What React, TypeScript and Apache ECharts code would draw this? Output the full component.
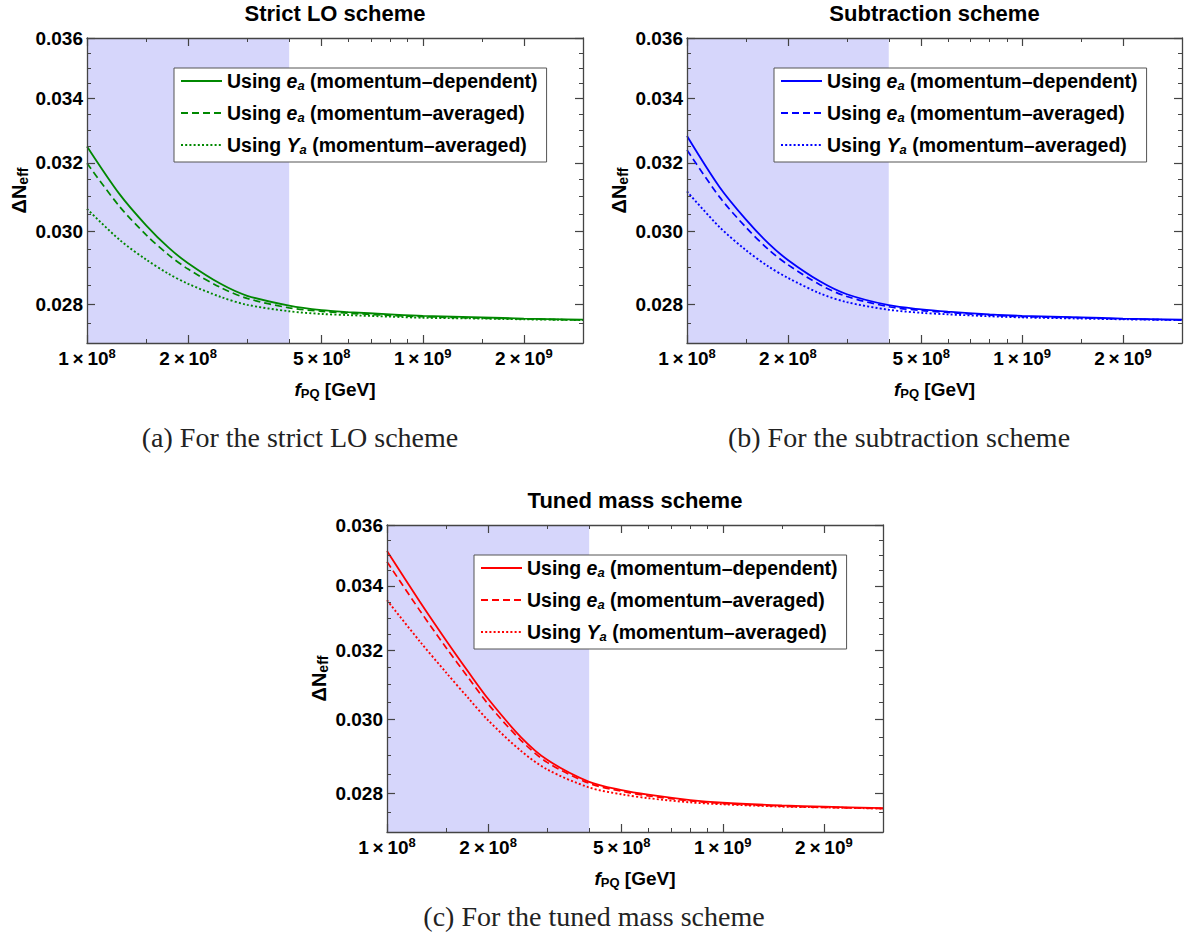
import React, { useEffect, useRef } from "react";
import * as echarts from "echarts";

// ---------------- data ----------------
const fValues = [1e8, 1.25e8, 1.5e8, 1.75e8, 2e8, 2.5e8, 3e8, 4e8, 5e8, 6e8, 8e8, 1e9, 1.5e9, 2e9, 3e9];

const strictDependent = [0.0325, 0.03107, 0.03017, 0.02954, 0.02911, 0.02855, 0.02823, 0.02797, 0.02785, 0.0278, 0.02774, 0.0277, 0.02766, 0.02763, 0.0276];
const strictAveragedE = [0.03199, 0.03071, 0.0299, 0.02934, 0.02895, 0.02845, 0.02816, 0.02791, 0.02782, 0.02777, 0.02771, 0.02768, 0.02764, 0.02762, 0.02759];
const strictAveragedY = [0.03064, 0.02976, 0.02921, 0.02882, 0.02855, 0.0282, 0.02799, 0.02782, 0.02775, 0.02772, 0.02768, 0.02765, 0.02763, 0.02761, 0.02759];

const subDependent = [0.03282, 0.03128, 0.03033, 0.02966, 0.0292, 0.02861, 0.02827, 0.02798, 0.02787, 0.02781, 0.02774, 0.0277, 0.02766, 0.02763, 0.0276];
const subAveragedE = [0.03239, 0.03099, 0.03011, 0.02949, 0.02907, 0.02852, 0.02821, 0.02794, 0.02784, 0.02779, 0.02772, 0.02768, 0.02765, 0.02762, 0.02759];
const subAveragedY = [0.03115, 0.03012, 0.02947, 0.02902, 0.02871, 0.02829, 0.02806, 0.02786, 0.02778, 0.02774, 0.02769, 0.02766, 0.02763, 0.02761, 0.02759];

const tunedDependent = [0.03513, 0.03352, 0.03231, 0.03136, 0.03059, 0.02952, 0.02889, 0.0283, 0.02808, 0.02796, 0.02782, 0.02775, 0.02768, 0.02765, 0.02761];
const tunedAveragedE = [0.03478, 0.03324, 0.03209, 0.03119, 0.03044, 0.02943, 0.02882, 0.02826, 0.02805, 0.02793, 0.0278, 0.02773, 0.02766, 0.02763, 0.0276];
const tunedAveragedY = [0.03355, 0.03229, 0.03135, 0.0306, 0.02998, 0.02914, 0.02863, 0.02815, 0.02797, 0.02787, 0.02776, 0.02771, 0.02765, 0.02763, 0.0276];

const xRange = [1e8, 3e9];
const yRange = [0.027, 0.036];
const shadedRange = [1e8, 4e8];

const xMajorTicks = [1e8, 2e8, 5e8, 1e9, 2e9];
const xTickMantissa = ["1", "2", "5", "1", "2"];
const xTickExponent = ["8", "8", "8", "9", "9"];
const xMinorTicks = [1.5e8, 3e8, 4e8, 6e8, 7e8, 8e8, 9e8, 1.5e9];

const yMajorTicks = [0.028, 0.03, 0.032, 0.034, 0.036];
const yTickLabels = ["0.028", "0.030", "0.032", "0.034", "0.036"];
const yMinorTicks = [0.027, 0.0275, 0.0285, 0.029, 0.0295, 0.0305, 0.031, 0.0315, 0.0325, 0.033, 0.0335, 0.0345, 0.035, 0.0355];

const legendLabels = [
  "Using {i|e}{sub|a} (momentum–dependent)",
  "Using {i|e}{sub|a} (momentum–averaged)",
  "Using {i|Y}{sub|a} (momentum–averaged)",
];

const panelTitles = ["Strict LO scheme", "Subtraction scheme", "Tuned mass scheme"];
const panelCaptions = ["(a) For the strict LO scheme", "(b) For the subtraction scheme", "(c) For the tuned mass scheme"];
const panelColors = ["#008800", "#0000ff", "#ff0000"];
const panelSeries = [
  [strictDependent, strictAveragedE, strictAveragedY],
  [subDependent, subAveragedE, subAveragedY],
  [tunedDependent, tunedAveragedE, tunedAveragedY],
];

// ---------------- layout / style ----------------
const FONT = "'Liberation Sans', Arial, Helvetica, sans-serif";
const SERIF = "'Liberation Serif', 'Times New Roman', serif";
const FRAME = "#444444";
const grids = [
  { left: 87, top: 38, width: 496, height: 305 },
  { left: 687, top: 38, width: 495, height: 305 },
  { left: 387, top: 525, width: 496, height: 307 },
];
const captionPos = [
  { x: 300, y: 437 },
  { x: 899, y: 437 },
  { x: 594, y: 916 },
];
const dashTypes: any[] = ["solid", [7, 4], [2, 2.2]];
const lineWidths = [1.8, 1.7, 1.9];

const L = (v: number) => Math.log10(v);

function buildOption() {
  const xAxis: any[] = [];
  const yAxis: any[] = [];
  const series: any[] = [];
  const legend: any[] = [];
  const graphic: any[] = [];

  const xMin = L(xRange[0]);
  const xMax = L(xRange[1]);
  const yMin = L(yRange[0]);
  const yMax = L(yRange[1]);

  grids.forEach((g, i) => {
    const base = { type: "value", gridIndex: i, min: xMin, max: xMax, z: 10, splitLine: { show: false } };
    const ybase = { type: "value", gridIndex: i, min: yMin, max: yMax, z: 10, splitLine: { show: false } };
    const line = { show: true, onZero: false, lineStyle: { color: FRAME, width: 1.3 } };
    const noLine = { show: false, onZero: false };
    const majTick = (vals: number[]) => ({ show: true, inside: true, length: 8, customValues: vals.map(L), lineStyle: { color: FRAME, width: 1.2 } });
    const minTick = (vals: number[]) => ({ show: true, inside: true, length: 4, customValues: vals.map(L), lineStyle: { color: FRAME, width: 1 } });

    xAxis.push({
      ...base,
      position: "bottom",
      axisLine: line,
      axisTick: majTick(xMajorTicks),
      axisLabel: {
        show: true,
        customValues: xMajorTicks.map(L),
        margin: 4,
        formatter: (v: number) => {
          const idx = xMajorTicks.findIndex((t) => Math.abs(L(t) - v) < 1e-6);
          if (idx < 0) return "";
          return `{b|${xTickMantissa[idx]}\u2009×\u200910}{sup|${xTickExponent[idx]}}`;
        },
        rich: {
          b: { fontFamily: FONT, fontWeight: "bold", fontSize: 19, color: "#000" },
          sup: { fontFamily: FONT, fontWeight: "bold", fontSize: 13, color: "#000", padding: [0, 0, 9, 0] },
        },
      },
      name: "{i|f}{sub|PQ}{b| [GeV]}",
      nameLocation: "middle",
      nameGap: 36,
      nameTextStyle: {
        rich: {
          i: { fontFamily: FONT, fontWeight: "bold", fontStyle: "italic", fontSize: 19, color: "#000" },
          sub: { fontFamily: FONT, fontWeight: "bold", fontSize: 13, color: "#000", padding: [8, 0, 0, 0] },
          b: { fontFamily: FONT, fontWeight: "bold", fontSize: 19, color: "#000" },
        },
      },
    });
    xAxis.push({ ...base, position: "bottom", axisLine: noLine, axisTick: minTick(xMinorTicks), axisLabel: { show: false } });
    xAxis.push({ ...base, position: "top", axisLine: line, axisTick: majTick(xMajorTicks), axisLabel: { show: false } });
    xAxis.push({ ...base, position: "top", axisLine: noLine, axisTick: minTick(xMinorTicks), axisLabel: { show: false } });

    yAxis.push({
      ...ybase,
      position: "left",
      axisLine: line,
      axisTick: majTick(yMajorTicks),
      axisLabel: {
        show: true,
        customValues: yMajorTicks.map(L),
        margin: 4,
        fontFamily: FONT,
        fontWeight: "bold",
        fontSize: 19,
        color: "#000",
        formatter: (v: number) => {
          const idx = yMajorTicks.findIndex((t) => Math.abs(L(t) - v) < 1e-6);
          return idx < 0 ? "" : yTickLabels[idx];
        },
      },
      name: "{b|ΔN}{sub|eff}",
      nameLocation: "middle",
      nameRotate: 90,
      nameGap: 57,
      nameTextStyle: {
        rich: {
          b: { fontFamily: FONT, fontWeight: "bold", fontSize: 20, color: "#000" },
          sub: { fontFamily: FONT, fontWeight: "bold", fontSize: 14, color: "#000", padding: [9, 0, 0, 0] },
        },
      },
    });
    yAxis.push({ ...ybase, position: "left", axisLine: noLine, axisTick: minTick(yMinorTicks), axisLabel: { show: false } });
    yAxis.push({ ...ybase, position: "right", axisLine: line, axisTick: majTick(yMajorTicks), axisLabel: { show: false } });
    yAxis.push({ ...ybase, position: "right", axisLine: noLine, axisTick: minTick(yMinorTicks), axisLabel: { show: false } });

    const xi = i * 4;
    series.push({
      type: "line",
      name: `shade${i}`,
      xAxisIndex: xi,
      yAxisIndex: xi,
      data: [],
      z: 1,
      silent: true,
      markArea: {
        silent: true,
        itemStyle: { color: "#d6d6fb", opacity: 1 },
        data: [[{ xAxis: L(shadedRange[0]) }, { xAxis: L(shadedRange[1]) }]],
      },
    });

    const names: string[] = [];
    panelSeries[i].forEach((vals, k) => {
      const name = `p${i}s${k}`;
      names.push(name);
      series.push({
        type: "line",
        name,
        xAxisIndex: xi,
        yAxisIndex: xi,
        symbol: "none",
        smooth: 0.3,
        z: 3,
        lineStyle: { color: panelColors[i], width: lineWidths[k], type: dashTypes[k], cap: "butt" },
        itemStyle: { color: panelColors[i] },
        data: fValues.map((f, j) => [L(f), L(vals[j])]),
      });
    });

    legend.push({
      data: names,
      orient: "vertical",
      left: g.left + 87,
      top: g.top + 30,
      itemWidth: 41,
      itemHeight: 14,
      itemGap: 10,
      padding: [2, 9, 6, 6],
      borderColor: "#555",
      borderWidth: 1,
      borderRadius: 0,
      backgroundColor: "#fff",
      selectedMode: false,
      itemStyle: { opacity: 0, borderWidth: 0 },
      formatter: (name: string) => legendLabels[names.indexOf(name)],
      textStyle: {
        fontFamily: FONT,
        fontWeight: "bold",
        fontSize: 19.5,
        color: "#000",
        lineHeight: 22,
        rich: {
          i: { fontFamily: FONT, fontWeight: "bold", fontStyle: "italic", fontSize: 19.5, color: "#000" },
          sub: { fontFamily: FONT, fontWeight: "bold", fontStyle: "italic", fontSize: 13, color: "#000", padding: [8, 0, 0, 0] },
        },
      },
    });

    graphic.push({
      type: "text",
      x: g.left + g.width / 2,
      y: g.top - 25,
      style: {
        text: panelTitles[i],
        fontFamily: FONT,
        fontWeight: "bold",
        fontSize: 22,
        fill: "#000",
        align: "center",
        verticalAlign: "middle",
      },
    });
    graphic.push({
      type: "text",
      x: captionPos[i].x,
      y: captionPos[i].y,
      style: {
        text: panelCaptions[i],
        fontFamily: SERIF,
        fontSize: 28,
        fill: "#222",
        align: "center",
        verticalAlign: "middle",
      },
    });
  });

  return {
    animation: false,
    backgroundColor: "#fff",
    grid: grids.map((g) => ({ ...g, containLabel: false, outerBoundsMode: "none" })),
    xAxis,
    yAxis,
    series,
    legend,
    graphic,
  };
}

export default function App() {
  const ref = useRef<HTMLDivElement>(null);
  useEffect(() => {
    if (!ref.current) return;
    const chart = echarts.init(ref.current, undefined, { renderer: "svg" });
    chart.setOption(buildOption() as any);
    return () => chart.dispose();
  }, []);
  return <div ref={ref} style={{ position: "absolute", left: 0, top: 0, width: 1186, height: 940 }} />;
}
